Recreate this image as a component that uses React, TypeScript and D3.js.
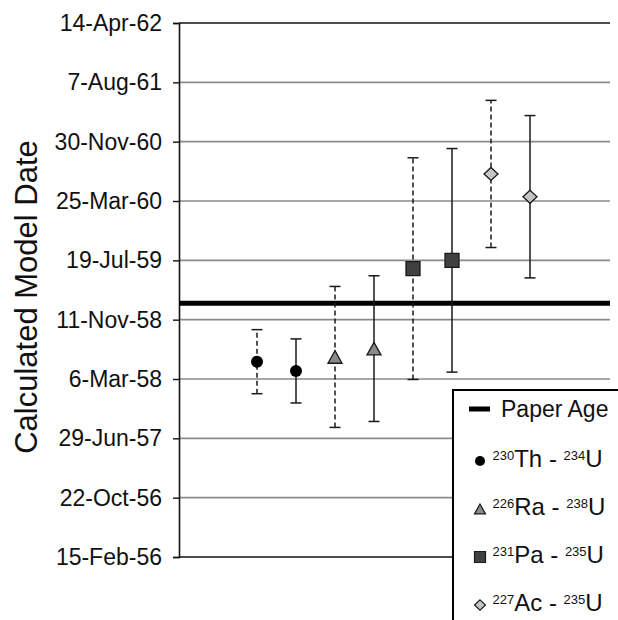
import React, { useEffect, useRef } from 'react';
import * as d3 from 'd3';

// y axis ticks (Excel date axis, 250 day major unit)
const tickDates = [
  '1956-02-15', '1956-10-22', '1957-06-29', '1958-03-06', '1958-11-11',
  '1959-07-19', '1960-03-25', '1960-11-30', '1961-08-07', '1962-04-14',
];

const methods = ['Th', 'Ra', 'Pa', 'Ac'];

// dashed error bar series
const dashedX = [2, 4, 6, 8];
const dashedDates = ['1958-05-18', '1958-06-07', '1959-06-14', '1960-07-17'];
const dashedErrDays = [135, 297, 467, 310];

// solid error bar series
const solidX = [3, 5, 7, 9];
const solidDates = ['1958-04-09', '1958-07-12', '1959-07-19', '1960-04-12'];
const solidErrDays = [135, 307, 471, 342];

const paperAge = '1959-01-19';

const legendLabels = [
  { sup1: '230', el: 'Th', sup2: '234' },
  { sup1: '226', el: 'Ra', sup2: '238' },
  { sup1: '231', el: 'Pa', sup2: '235' },
  { sup1: '227', el: 'Ac', sup2: '235' },
];

const FONT = '"Liberation Sans", Arial, sans-serif';

const markerPath = (m: string, s: number) => {
  const h = s / 2;
  if (m === 'Ra') return `M0,${-h * 0.9}L${h},${h * 0.9}L${-h},${h * 0.9}Z`;
  if (m === 'Pa') return `M${-h},${-h}H${h}V${h}H${-h}Z`;
  if (m === 'Ac') return `M0,${-h * 0.93}L${h},0L0,${h * 0.93}L${-h},0Z`;
  return '';
};

const fills: Record<string, string> = { Th: '#000', Ra: '#8a8a8a', Pa: '#404040', Ac: '#c4c4c4' };

const App = () => {
  const ref = useRef<SVGSVGElement | null>(null);

  useEffect(() => {
    if (!ref.current) return;
    const W = 618, H = 620;
    const left = 179, right = 610, top = 23, bottom = 557;
    const parse = d3.utcParse('%Y-%m-%d');
    const dayMs = 86400000;

    const svg = d3.select(ref.current);
    svg.selectAll('*').remove();
    svg.attr('width', W).attr('height', H);
    svg.append('rect').attr('width', W).attr('height', H).attr('fill', '#fff');

    const ticks = tickDates.map(d => parse(d) as Date);
    const y = d3.scaleUtc()
      .domain([ticks[0], ticks[ticks.length - 1]])
      .range([bottom, top]);
    const x = d3.scaleLinear().domain([0, 11]).range([left, 608]);

    // gridlines
    svg.append('g')
      .selectAll('line')
      .data(ticks.slice(1))
      .enter()
      .append('line')
      .attr('x1', left)
      .attr('x2', right)
      .attr('y1', d => y(d))
      .attr('y2', d => y(d))
      .attr('stroke', (d, i) => (i === ticks.length - 2 ? '#111' : '#8a8a8a'))
      .attr('stroke-width', 1.6);

    // bottom axis line
    svg.append('line')
      .attr('x1', left).attr('x2', right)
      .attr('y1', y(ticks[0])).attr('y2', y(ticks[0]))
      .attr('stroke', '#111').attr('stroke-width', 1.6);

    // left axis
    const yAxis = svg.append('g')
      .attr('transform', `translate(${left},0)`)
      .call(
        d3.axisLeft(y)
          .tickValues(ticks)
          .tickFormat(d => d3.utcFormat('%-d-%b-%y')(d as Date))
          .tickSize(6)
          .tickPadding(11)
      );
    yAxis.select('.domain').attr('stroke', '#111').attr('stroke-width', 1.6);
    yAxis.selectAll('.tick line').attr('stroke', '#111').attr('stroke-width', 1.4);
    yAxis.selectAll('.tick text')
      .attr('font-family', FONT)
      .attr('font-size', 23)
      .attr('fill', '#111');

    // axis title
    svg.append('text')
      .attr('transform', 'rotate(-90)')
      .attr('x', -297)
      .attr('y', 37)
      .attr('text-anchor', 'middle')
      .attr('font-family', FONT)
      .attr('font-size', 31)
      .attr('fill', '#111')
      .text('Calculated Model Date');

    // paper age line
    svg.append('line')
      .attr('x1', left).attr('x2', right)
      .attr('y1', y(parse(paperAge) as Date)).attr('y2', y(parse(paperAge) as Date))
      .attr('stroke', '#000').attr('stroke-width', 5);

    const series = [
      { xs: dashedX, dates: dashedDates, errs: dashedErrDays, dash: '5,3' },
      { xs: solidX, dates: solidDates, errs: solidErrDays, dash: null },
    ];

    series.forEach(s => {
      const pts = methods.map((m, i) => {
        const d = parse(s.dates[i]) as Date;
        return {
          m,
          x: s.xs[i],
          c: d,
          hi: new Date(d.getTime() + s.errs[i] * dayMs),
          lo: new Date(d.getTime() - s.errs[i] * dayMs),
        };
      });

      const g = svg.append('g');
      g.selectAll('.bar')
        .data(pts)
        .enter()
        .append('line')
        .attr('x1', d => x(d.x)).attr('x2', d => x(d.x))
        .attr('y1', d => y(d.lo)).attr('y2', d => y(d.hi))
        .attr('stroke', '#1a1a1a')
        .attr('stroke-width', 1.5)
        .attr('stroke-dasharray', s.dash);

      ['lo', 'hi'].forEach(k => {
        g.selectAll('.cap-' + k)
          .data(pts)
          .enter()
          .append('line')
          .attr('x1', d => x(d.x) - 5.5).attr('x2', d => x(d.x) + 5.5)
          .attr('y1', d => y((d as any)[k])).attr('y2', d => y((d as any)[k]))
          .attr('stroke', '#1a1a1a')
          .attr('stroke-width', 1.5);
      });

      pts.forEach(p => {
        const cx = x(p.x), cy = y(p.c);
        if (p.m === 'Th') {
          g.append('circle').attr('cx', cx).attr('cy', cy).attr('r', 6).attr('fill', '#000');
        } else {
          g.append('path')
            .attr('transform', `translate(${cx},${cy})`)
            .attr('d', markerPath(p.m, 14))
            .attr('fill', fills[p.m])
            .attr('stroke', '#1a1a1a')
            .attr('stroke-width', 1.3);
        }
      });
    });

    // legend
    const lg = svg.append('g');
    lg.append('rect')
      .attr('x', 453).attr('y', 390)
      .attr('width', 200).attr('height', 260)
      .attr('fill', '#fff')
      .attr('stroke', '#000')
      .attr('stroke-width', 2);

    lg.append('line')
      .attr('x1', 469).attr('x2', 490)
      .attr('y1', 409).attr('y2', 409)
      .attr('stroke', '#000').attr('stroke-width', 5);
    lg.append('text')
      .attr('x', 501).attr('y', 417)
      .attr('font-family', FONT).attr('font-size', 23).attr('fill', '#111')
      .text('Paper Age');

    legendLabels.forEach((l, i) => {
      const cy = 461 + i * 48;
      const m = methods[i];
      if (m === 'Th') {
        lg.append('circle').attr('cx', 480).attr('cy', cy).attr('r', 5).attr('fill', '#000');
      } else {
        lg.append('path')
          .attr('transform', `translate(480,${cy})`)
          .attr('d', markerPath(m, 11))
          .attr('fill', fills[m])
          .attr('stroke', '#1a1a1a')
          .attr('stroke-width', 1.2);
      }
      const t = lg.append('text')
        .attr('x', 492.5).attr('y', cy + 6)
        .attr('font-family', FONT).attr('fill', '#111');
      t.append('tspan').attr('font-size', 13).attr('dy', -7.5).text(l.sup1);
      t.append('tspan').attr('font-size', 24).attr('dy', 7.5).text(l.el + ' - ');
      t.append('tspan').attr('font-size', 13).attr('dy', -7.5).text(l.sup2);
      t.append('tspan').attr('font-size', 24).attr('dy', 7.5).text('U');
    });
  }, []);

  return (
    <div style={{ position: 'absolute', left: 0, top: 0 }}>
      <svg ref={ref} style={{ display: 'block' }} />
    </div>
  );
};

export default App;
